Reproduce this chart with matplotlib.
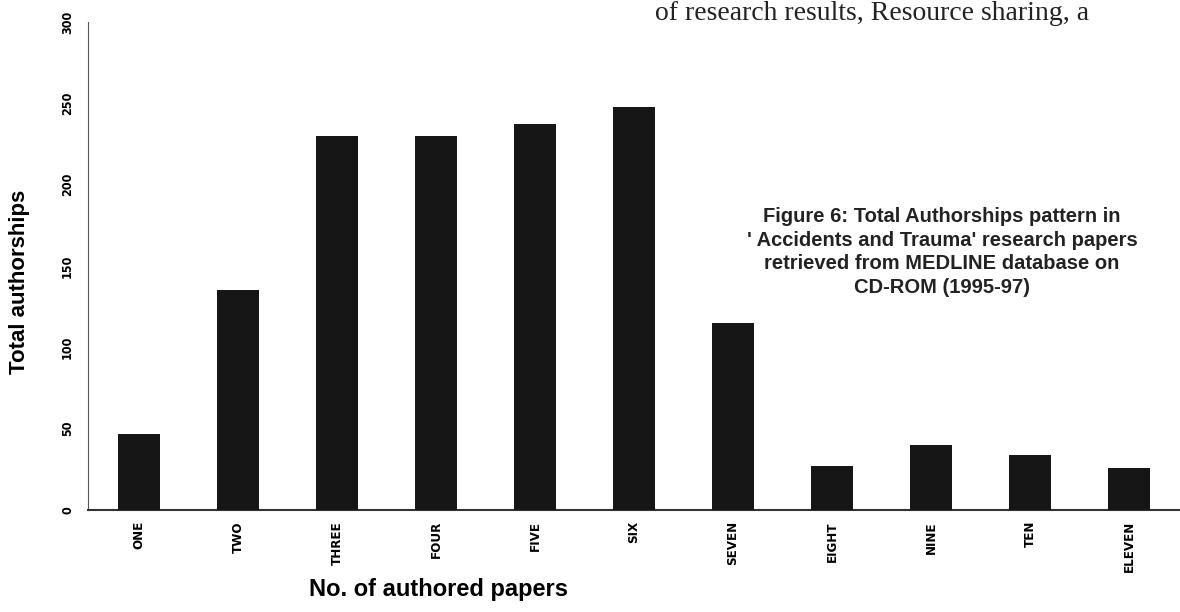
import matplotlib
matplotlib.use("Agg")
import matplotlib.pyplot as plt

categories = ["ONE", "TWO", "THREE", "FOUR", "FIVE", "SIX", "SEVEN", "EIGHT", "NINE", "TEN", "ELEVEN"]
authorships = [47, 135, 230, 230, 237, 248, 115, 27, 40, 34, 26]
yticks = [0, 50, 100, 150, 200, 250, 300]

fig = plt.figure(figsize=(11.8, 6.12), dpi=100)
ax = fig.add_axes([88/1180, 1 - 510/612, (1180 - 88)/1180, (510 - 22)/612])

x = list(range(len(categories)))
ax.bar(x, authorships, width=0.42, color="#161616", zorder=3)
ax.set_xlim(-0.515, len(categories) - 0.485)
ax.set_ylim(0, 300)
ax.set_yticks(yticks)
ax.set_yticklabels([str(v) for v in yticks], rotation=90, va="center",
                   fontsize=9, fontweight="bold", family="DejaVu Sans",
                   fontstretch="condensed")
ax.set_xticks(x)
ax.set_xticklabels(categories, rotation=90, fontsize=9.5, fontweight="bold",
                   family="DejaVu Sans", fontstretch="condensed")
ax.tick_params(axis="x", length=0, pad=8)
ax.tick_params(axis="y", length=0, pad=10)
for s in ["top", "right"]:
    ax.spines[s].set_visible(False)
ax.spines["left"].set_color("#555555")
ax.spines["bottom"].set_color("#333333")
ax.spines["bottom"].set_linewidth(1.5)

ax.set_ylabel("Total authorships", fontsize=16, fontweight="bold",
              family="Liberation Sans")
ax.yaxis.set_label_coords(-(88 - 30)/1092, (510 - 282)/488)
ax.set_xlabel("No. of authored papers", fontsize=17, fontweight="bold",
              family="Liberation Sans")
ax.xaxis.set_label_coords((438 - 88)/1092, -(578 - 510)/488)

ax.text((942 - 88)/1092, (510 - 252)/488,
        "Figure 6: Total Authorships pattern in\n' Accidents and Trauma' research papers\nretrieved from MEDLINE database on\nCD-ROM (1995-97)",
        transform=ax.transAxes, ha="center", va="center", fontsize=14.5,
        fontweight="bold", family="Liberation Sans", color="#222222",
        linespacing=1.3)

fig.text(655/1180, 1 - 20/612, "of research results, Resource sharing, a",
         ha="left", va="baseline", fontsize=20, family="Liberation Serif",
         color="#222222")

fig.savefig("out.png", dpi=100, facecolor="white")
